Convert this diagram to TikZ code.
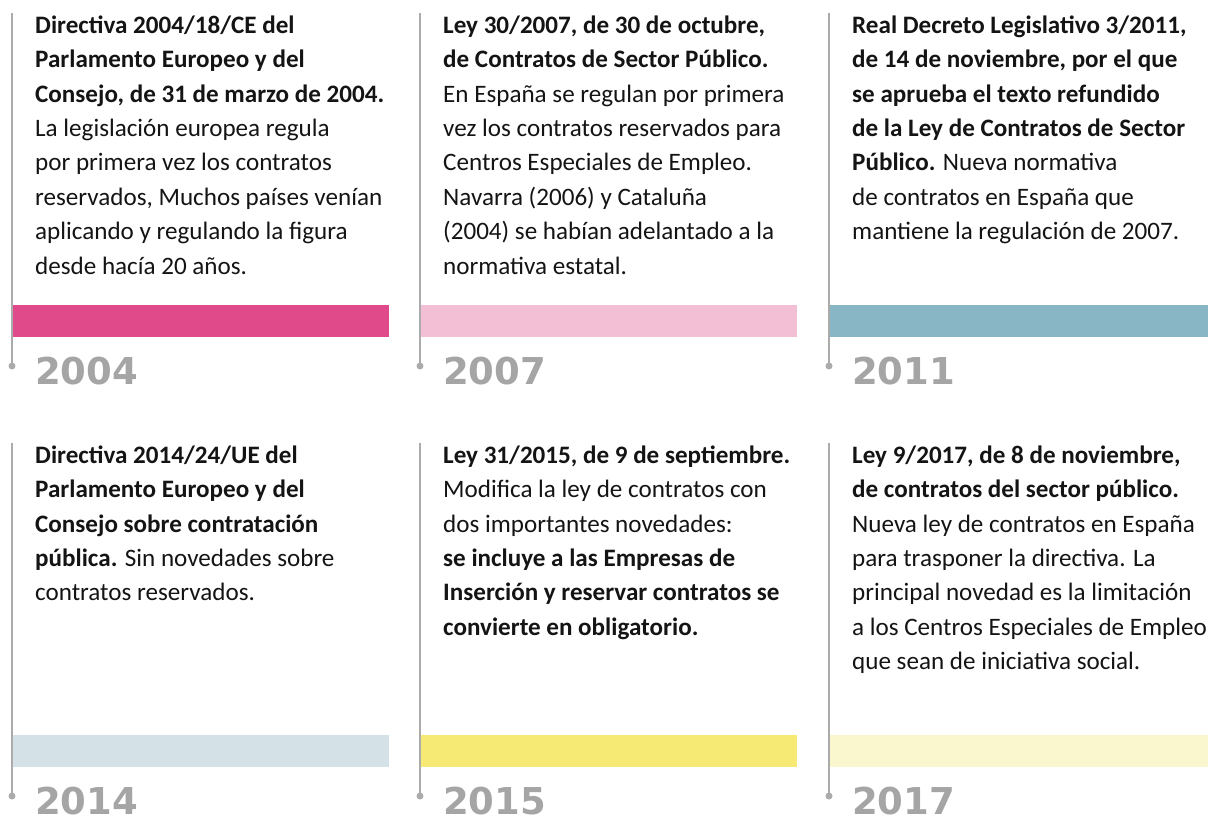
\documentclass[tikz,border=0pt]{standalone}
\usepackage{fontspec}
\setmainfont{Carlito}
\newfontfamily\yearfont{DejaVu Sans}
\definecolor{lineg}{HTML}{ABABAB}
\definecolor{yearg}{HTML}{A5A5A5}
\definecolor{ca}{HTML}{E0498A}
\definecolor{cb}{HTML}{F2BFD5}
\definecolor{cc}{HTML}{88B6C4}
\definecolor{cd}{HTML}{D4E1E7}
\definecolor{ce}{HTML}{F6EA75}
\definecolor{cf}{HTML}{FAF6CD}
\tikzset{
  tl/.style={draw=lineg, line width=2pt},
  dotn/.style={circle, fill=lineg, inner sep=0pt, minimum size=7pt},
  barn/.style={anchor=north west, inner sep=0pt, minimum height=32pt},
  yr/.style={anchor=base west, inner sep=0pt, text=yearg, font=\yearfont\bfseries\fontsize{37}{37}\selectfont},
  body/.style={anchor=north west, inner sep=0pt, align=left, font=\fontsize{25.1}{34.4}\selectfont, text=black!92}
}
\newcommand\tlentry[7]{%
  \node[barn, fill=#4, minimum width=#7] (#1b) at (#2, #3+305) {};
  \coordinate (#1t) at (#2, #3+13);
  \node[dotn] (#1d) at (#2, #3+366) {};
  \draw[tl] (#1t) -- (#1d.center);
  \node[yr] (#1y) at (#2+23, #3+384) {#5};
  \node[body] (#1x) at (#2+23, #3+12) {\rule{0pt}{21pt}#6};
}
\begin{document}
\begin{tikzpicture}[x=1pt, y=-1pt]
\useasboundingbox (0,0) rectangle (1208,820);
\tlentry{a}{12}{0}{ca}{2004}{\textbf{Directiva 2004/18/CE del}\\\textbf{Parlamento Europeo y del}\\\textbf{Consejo, de 31 de marzo de 2004.}\\La legislación europea regula\\por primera vez los contratos\\reservados, Muchos países venían\\aplicando y regulando la figura\\desde hacía 20 años.}{377pt}
\tlentry{b}{420}{0}{cb}{2007}{\textbf{Ley 30/2007, de 30 de octubre,}\\\textbf{de Contratos de Sector Público.}\\En España se regulan por primera\\vez los contratos reservados para\\Centros Especiales de Empleo.\\Navarra (2006) y Cataluña\\(2004) se habían adelantado a la\\normativa estatal.}{377pt}
\tlentry{c}{829}{0}{cc}{2011}{\textbf{Real Decreto Legislativo 3/2011,}\\\textbf{de 14 de noviembre, por el que}\\\textbf{se aprueba el texto refundido}\\\textbf{de la Ley de Contratos de Sector}\\\textbf{Público.} Nueva normativa\\de contratos en España que\\mantiene la regulación de 2007.}{379pt}
\tlentry{d}{12}{430}{cd}{2014}{\textbf{Directiva 2014/24/UE del}\\\textbf{Parlamento Europeo y del}\\\textbf{Consejo sobre contratación}\\\textbf{pública.} Sin novedades sobre\\contratos reservados.}{377pt}
\tlentry{e}{420}{430}{ce}{2015}{\textbf{Ley 31/2015, de 9 de septiembre.}\\Modifica la ley de contratos con\\dos importantes novedades:\\\textbf{se incluye a las Empresas de}\\\textbf{Inserción y reservar contratos se}\\\textbf{convierte en obligatorio.}}{377pt}
\tlentry{f}{829}{430}{cf}{2017}{\textbf{Ley 9/2017, de 8 de noviembre,}\\\textbf{de contratos del sector público.}\\Nueva ley de contratos en España\\para trasponer la directiva. La\\principal novedad es la limitación\\a los Centros Especiales de Empleo\\que sean de iniciativa social.}{379pt}
\end{tikzpicture}
\end{document}
